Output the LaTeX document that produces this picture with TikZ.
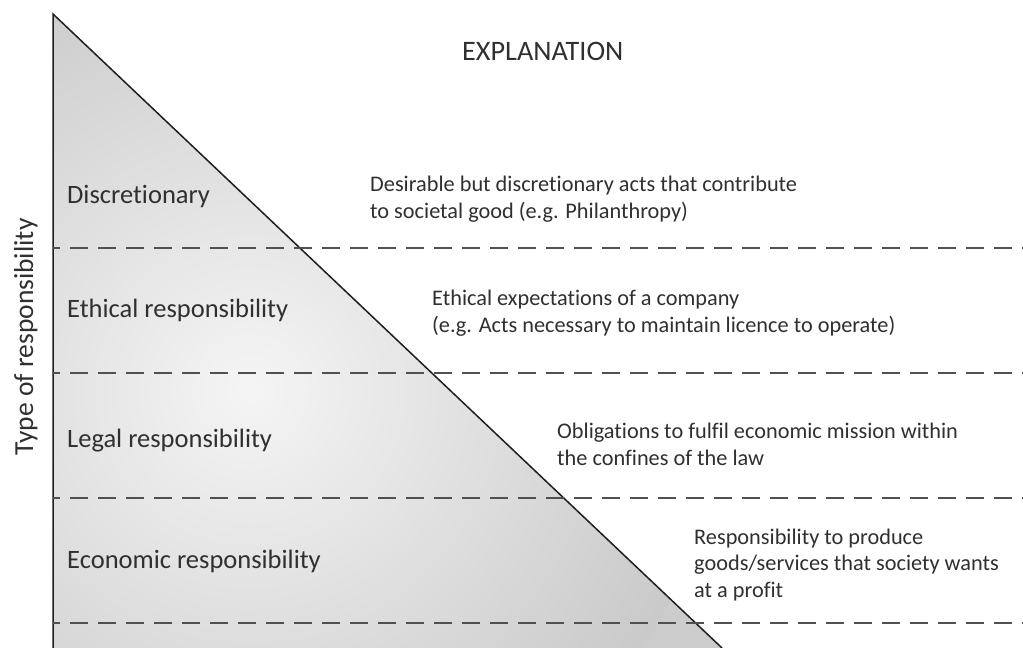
\documentclass[tikz,border=0pt]{standalone}
\usepackage{fontspec}
\setmainfont{Carlito}[Ligatures=NoCommon]
\definecolor{txt}{HTML}{303030}
\definecolor{dashc}{HTML}{505050}
\definecolor{edge}{HTML}{1E1E1E}
\begin{document}
\begin{tikzpicture}[x=1pt,y=-1pt,
  lbl/.style={anchor=base west,inner sep=0pt,text=txt,align=left,
    font=\fontsize{26.5}{26.8}\selectfont},
  desc/.style={lbl,font=\fontsize{22.3}{26.3}\selectfont},
  sep/.style={draw=dashc,line width=1.8pt,dash pattern=on 18pt off 10pt,dash phase=11pt},
  edgeline/.style={draw=edge,line width=1.5pt}]
\useasboundingbox (0,0) rectangle (1023,648);
\fill[white] (0,0) rectangle (1023,648);
% shaded triangle
\begin{scope}
  \clip (53,14) -- (722,648) -- (53,648) -- cycle;
  \fill[gray!40] (0,0) rectangle (740,660);
  \shade[inner color=gray!8,outer color=gray!42] (250,390) circle (470);
\end{scope}
\coordinate (apex) at (53,14);
\coordinate (bl) at (53,648);
\coordinate (br) at (722,648);
\draw[edgeline] (bl) -- (apex) -- (br);
% dashed separators
\foreach \y/\n in {248/a,373/b,498/c,623/d}{
  \coordinate (s\n l) at (53,\y);
  \coordinate (s\n r) at (1023,\y);
  \draw[sep] (s\n l) -- (s\n r);
}
% labels
\node[lbl,font=\fontsize{28.2}{28.2}\selectfont] (expl) at (462,60) {EXPLANATION};
\node[lbl] (disc) at (67,203) {Discretionary};
\node[lbl] (eth) at (67,317) {Ethical responsibility};
\node[lbl] (leg) at (67,447) {Legal responsibility};
\node[lbl] (eco) at (67,568) {Economic responsibility};
\node[lbl,font=\fontsize{27.5}{27.5}\selectfont,rotate=90,anchor=base] (type) at (33,337) {Type of responsibility};
\node[desc] (d1) at (370,218) {Desirable but discretionary acts that contribute\\to societal good (e.g. Philanthropy)};
\node[desc] (d2) at (432,332) {Ethical expectations of a company\\(e.g. Acts necessary to maintain licence to operate)};
\node[desc] (d3) at (557,465) {Obligations to fulfil economic mission within\\the confines of the law};
\node[desc] (d4) at (694,597) {Responsibility to produce\\goods/services that society wants\\at a profit};
\end{tikzpicture}
\end{document}
